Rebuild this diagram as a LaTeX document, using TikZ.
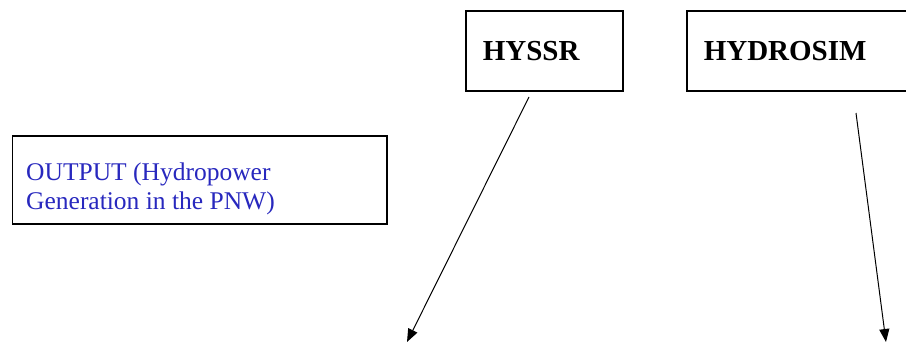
\documentclass[tikz,border=0pt]{standalone}
\usepackage{fontspec}
\setmainfont{Liberation Serif}
\usetikzlibrary{arrows.meta}
\definecolor{txtblue}{RGB}{40,40,190}
\begin{document}
\begin{tikzpicture}[x=1pt,y=-1pt,
  box/.style={draw, line width=1.5pt, rectangle, align=left, inner xsep=17pt, inner ysep=0pt, anchor=north west},
  lbl/.style={font=\fontsize{29}{34}\selectfont\bfseries},
  arr/.style={-{Triangle[length=13pt,width=10pt]}, line width=1pt}]
\useasboundingbox (0,0) rectangle (906,343);
\clip (0,0) rectangle (906,343);
\node[box, lbl, text width=123pt, minimum height=80pt] (hyssr) at (465,10) {HYSSR};
\node[box, lbl, text width=205pt, minimum height=80pt] (hydrosim) at (686,10) {HYDROSIM};
\node[box, inner sep=0pt, minimum width=374.5pt, minimum height=88pt] (outputbox) at (11.5,135) {};
\node[anchor=base west, inner sep=0pt, align=left, font=\fontsize{25.5}{29}\selectfont, text=txtblue] (output) at (26,209) {OUTPUT (Hydropower\\Generation in the PNW)};
\coordinate (a1s) at (529,97);
\coordinate (a1e) at (407,342);
\coordinate (a2s) at (856,113);
\coordinate (a2e) at (886,342);
\draw[arr] (a1s) -- (a1e);
\draw[arr] (a2s) -- (a2e);
\end{tikzpicture}
\end{document}
